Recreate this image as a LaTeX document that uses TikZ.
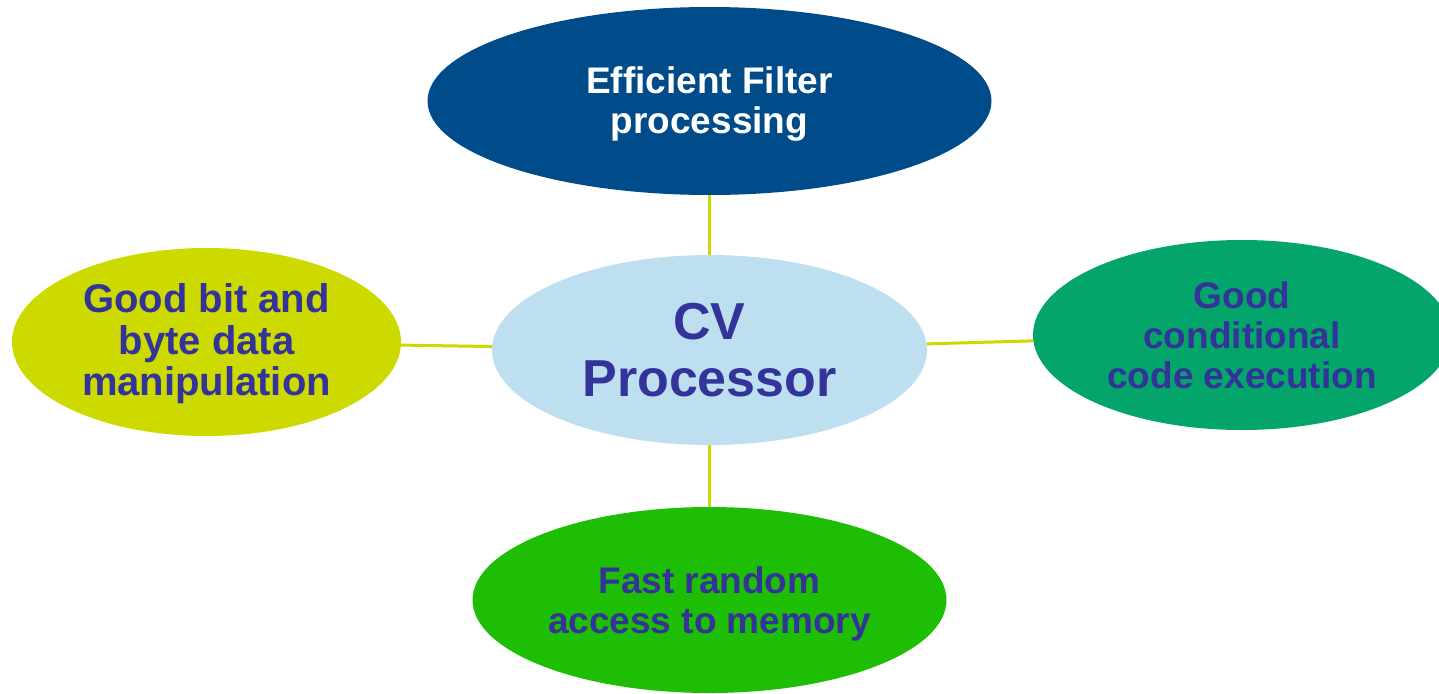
\documentclass[tikz,border=0pt]{standalone}
\usepackage{fontspec}
\setmainfont{Liberation Sans}
\usetikzlibrary{shapes.geometric}
\definecolor{topblue}{RGB}{0,76,138}
\definecolor{cvblue}{RGB}{190,223,239}
\definecolor{limefill}{RGB}{204,218,0}
\definecolor{tealgreen}{RGB}{3,165,106}
\definecolor{brightgreen}{RGB}{30,190,5}
\definecolor{linkyellow}{RGB}{206,216,0}
\definecolor{txtblue}{RGB}{51,51,153}
\begin{document}
\begin{tikzpicture}[x=1pt,y=-1pt,
  bubble/.style={ellipse, inner sep=0pt},
  lbl/.style={align=center, text=txtblue, inner sep=0pt,
    font=\bfseries\fontsize{37}{40}\selectfont},
  link/.style={draw=linkyellow, line width=3pt}]
\useasboundingbox (0,0) rectangle (1439,693);
\clip (0,0) rectangle (1439,693);
\node[bubble, fill=topblue, minimum width=564pt, minimum height=188pt,
  label={[lbl, text=white, yshift=-3pt]center:Efficient Filter\\processing}] (top) at (709.5,101) {};
\node[bubble, fill=cvblue, minimum width=435pt, minimum height=190pt,
  label={[lbl, font=\bfseries\fontsize{52}{57}\selectfont, yshift=-0.5pt]center:CV\\Processor}] (cv) at (709.5,350) {};
\node[bubble, fill=limefill, minimum width=389pt, minimum height=188pt,
  label={[lbl, font=\bfseries\fontsize{40}{41.5}\selectfont, yshift=-2pt]center:Good bit and\\byte data\\manipulation}] (left) at (206.5,342) {};
\node[bubble, fill=tealgreen, minimum width=418pt, minimum height=190pt,
  label={[lbl]center:Good\\conditional\\code execution}] (right) at (1242,335) {};
\node[bubble, fill=brightgreen, minimum width=474pt, minimum height=186pt,
  label={[lbl, yshift=-4pt]center:Fast random\\access to memory}] (bottom) at (709.5,600) {};
\draw[link] (top) -- (cv);
\draw[link] (left) -- (cv);
\draw[link] (cv) -- (right);
\draw[link] (cv) -- (bottom);
\end{tikzpicture}
\end{document}
